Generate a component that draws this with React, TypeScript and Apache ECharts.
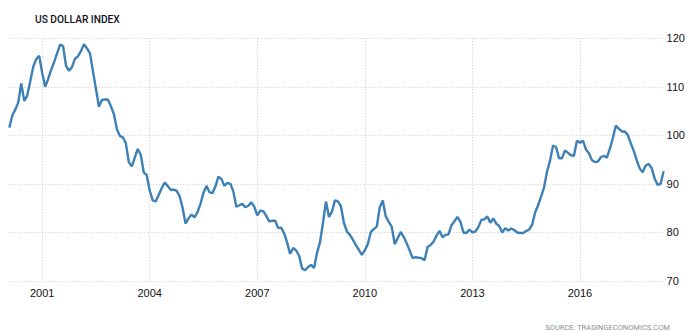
import React, { useEffect, useRef } from "react";
import * as echarts from "echarts";

const TITLE = "US DOLLAR INDEX";
const SOURCE = "SOURCE: TRADINGECONOMICS.COM";

// monthly observations, Feb 2000 .. May 2018
const START_YEAR = 2000;
const START_MONTH = 2;

const values2000to2004: number[] = [
  101.6, 104.1, 105.3, 106.8, 110.7, 107.1, 108.2, 111.1, 114.1, 115.7, 116.4,
  112.9, 110.0, 111.6, 113.5, 115.1, 116.9, 118.7, 118.4, 114.3, 113.3, 114.1,
  115.8, 116.3, 117.4, 118.8, 117.9, 116.9, 113.2, 109.6, 105.9, 107.3, 107.4,
  107.4, 106.0, 104.4, 101.3, 99.9, 99.6, 98.4, 94.5, 93.6, 95.4, 97.2, 96.0,
  92.4, 91.8, 88.6, 86.6, 86.4, 87.7, 89.1, 90.3, 89.6, 88.8, 88.8, 88.6, 87.5,
];
const values2005to2009: number[] = [
  85.1, 81.8, 82.9, 83.7, 83.1, 84.2, 85.9, 88.2, 89.6, 88.3, 88.1, 89.5, 91.5,
  91.0, 89.6, 90.2, 90.0, 88.4, 85.3, 85.6, 85.9, 85.2, 85.5, 86.2, 85.3, 83.5,
  84.5, 84.4, 83.4, 82.3, 82.4, 82.4, 80.9, 81.0, 79.8, 77.9, 75.6, 76.8, 76.3,
  75.2, 72.6, 72.2, 72.9, 73.3, 72.7, 75.8, 78.0, 82.0, 86.4, 83.2, 84.3, 86.6,
  86.4, 85.4, 82.0, 80.2, 79.5, 78.5, 77.4, 76.4,
];
const values2010to2014: number[] = [
  75.4, 76.3, 77.6, 80.1, 80.7, 81.2, 85.2, 86.6, 83.3, 82.2, 81.2, 77.6, 78.8,
  80.1, 79.1, 77.8, 76.3, 74.7, 74.9, 74.8, 74.7, 74.3, 77.0, 77.4, 78.1, 79.4,
  80.3, 79.0, 79.5, 79.6, 81.5, 82.3, 83.2, 82.2, 80.0, 79.9, 80.6, 80.0, 80.2,
  81.1, 82.6, 82.7, 83.3, 82.0, 82.9, 81.8, 81.3, 80.0, 80.9, 80.4, 80.8, 80.5,
  80.0, 79.9, 79.9, 80.3, 80.6, 81.6, 84.1, 85.6,
];
const values2015to2018: number[] = [
  87.4, 89.3, 92.6, 94.8, 97.9, 97.6, 95.3, 95.3, 96.9, 96.4, 95.9, 95.8, 98.9,
  98.5, 98.9, 97.1, 96.3, 94.9, 94.5, 94.6, 95.5, 95.8, 95.4, 97.2, 99.4, 102.0,
  101.4, 100.8, 100.8, 100.1, 98.4, 96.8, 94.9, 93.2, 92.4, 93.8, 94.1, 93.3,
  91.1, 89.8, 90.0, 92.6,
];

const seriesValues: number[] = [
  ...values2000to2004,
  ...values2005to2009,
  ...values2010to2014,
  ...values2015to2018,
];

const tickYears: string[] = ["2001", "2004", "2007", "2010", "2013", "2016"];
const yTicks: number[] = [70, 80, 90, 100, 110, 120];

const months: string[] = seriesValues.map((_, i) => {
  const total = START_YEAR * 12 + (START_MONTH - 1) + i;
  const y = Math.floor(total / 12);
  const m = (total % 12) + 1;
  return `${y}-${m < 10 ? "0" + m : m}`;
});

const isTick = (value: string) =>
  value.slice(5) === "01" && tickYears.includes(value.slice(0, 4));

export default function App() {
  const ref = useRef<HTMLDivElement>(null);
  useEffect(() => {
    if (!ref.current) return;
    const chart = echarts.init(ref.current, undefined, { renderer: "svg" });
    const font = "'Liberation Sans', Arial, sans-serif";
    chart.setOption({
      animation: false,
      backgroundColor: "#ffffff",
      title: [
        {
          text: TITLE,
          left: 30,
          top: 9,
          textStyle: {
            fontSize: 10.2,
            fontWeight: 500,
            color: "#101020",
            fontFamily: "Roboto, sans-serif",
          },
        },
        {
          text: SOURCE,
          right: 19,
          top: 318,
          textStyle: {
            fontSize: 7.5,
            fontWeight: "normal",
            color: "#8a8f98",
            fontFamily: "Roboto, sans-serif",
          },
        },
      ],
      grid: { left: 9.3, right: 30.4, top: 38.3, bottom: 51, containLabel: false },
      xAxis: {
        type: "category",
        data: months,
        boundaryGap: false,
        axisLine: { show: false },
        axisTick: { show: false },
        axisLabel: {
          interval: (_i: number, v: string) => isTick(v),
          formatter: (v: string) => v.slice(0, 4),
          color: "#111",
          fontSize: 11,
          fontFamily: font,
          margin: 6,
        },
        splitLine: {
          show: true,
          interval: (_i: number, v: string) => isTick(v),
          lineStyle: { color: "#c8c8c8", type: [1, 2], width: 1 },
        },
      },
      yAxis: {
        type: "value",
        position: "right",
        min: yTicks[0],
        max: yTicks[yTicks.length - 1],
        interval: 10,
        axisLine: { show: false },
        axisTick: { show: false },
        axisLabel: {
          color: "#111",
          fontSize: 11,
          fontFamily: font,
          margin: 3,
        },
        splitLine: {
          show: true,
          lineStyle: { color: "#c8c8c8", type: [1, 2], width: 1 },
        },
      },
      series: [
        {
          type: "line",
          data: seriesValues,
          showSymbol: false,
          symbol: "none",
          lineStyle: { color: "#3d80b6", width: 2.4 },
          itemStyle: { color: "#3d80b6" },
        },
      ],
    });
    return () => chart.dispose();
  }, []);
  return (
    <div
      ref={ref}
      style={{ position: "fixed", left: 0, top: 0, width: 694, height: 332 }}
    />
  );
}
